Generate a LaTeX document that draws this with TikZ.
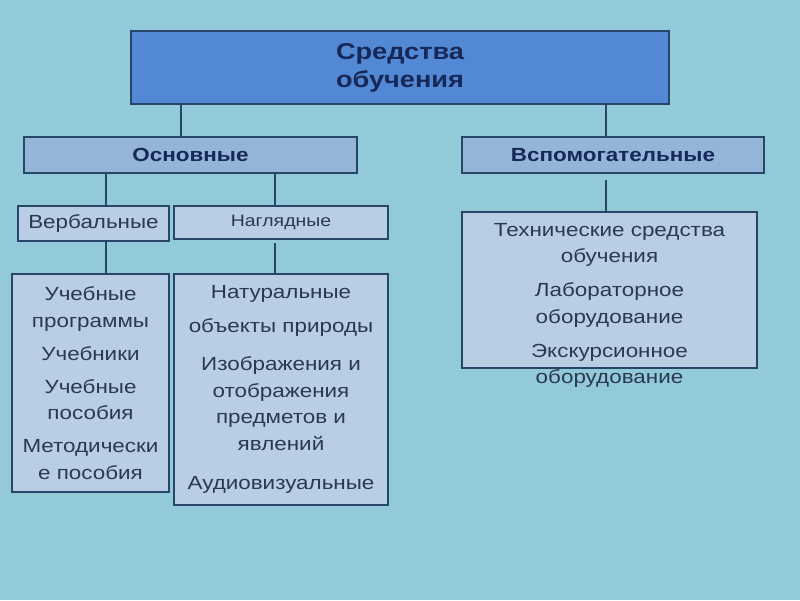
\documentclass[tikz,border=0pt]{standalone}
\usepackage{fontspec}
\setmainfont{Liberation Sans}[FakeStretch=1.18]
\usetikzlibrary{positioning}
\definecolor{bgteal}{HTML}{92CAD9}
\definecolor{rootblue}{HTML}{5389D4}
\definecolor{midblue}{HTML}{94B4D8}
\definecolor{lightblue}{HTML}{B9CDE5}
\definecolor{edgenavy}{HTML}{284668}
\definecolor{txtnavy}{HTML}{162858}
\definecolor{txtgray}{HTML}{2B3852}

\begin{document}
\begin{tikzpicture}[
    x=1pt, y=-1pt,
    box/.style={draw=edgenavy, line width=2.8pt, inner sep=0pt, align=center},
    head/.style={box, fill=rootblue, text=txtnavy, font=\fontsize{23}{28}\selectfont\bfseries},
    group/.style={box, fill=midblue, text=txtnavy, font=\fontsize{19}{22}\selectfont\bfseries, minimum height=36},
    kind/.style={box, fill=lightblue, text=txtgray, font=\fontsize{19}{22}\selectfont},
    list/.style={box, fill=lightblue},
    items/.style={text=txtgray, align=center, inner sep=0pt, font=\fontsize{19}{26.5}\selectfont},
    link/.style={draw=edgenavy, line width=2.8pt}
]
    \useasboundingbox[fill=bgteal] (0,0) rectangle (800,600);

    % Верхний уровень
    \node[head, minimum width=538, minimum height=73] (root) at (400,67.5) {Средства\\обучения};

    % Второй уровень: основные и вспомогательные
    \node[group, minimum width=333] (osn) at (190.5,155) {Основные};
    \node[group, minimum width=302] (vsp) at (613,155) {Вспомогательные};

    % Третий уровень
    \node[kind, minimum width=151, minimum height=35] (verb) at (93.5,223.5) {Вербальные};
    \node[kind, minimum width=214, minimum height=33, font=\fontsize{16.5}{20}\selectfont] (nagl) at (281,222.5) {Наглядные};

    % Перечни
    \node[list, minimum width=157, minimum height=218] (verblist) at (90.5,383) {};
    \node[items] (verbitems) at (verblist.center) {Учебные\\программы\\[6.5pt]Учебники\\[6.5pt]Учебные\\пособия\\[6.5pt]Методически\\е пособия};
    \node[list, minimum width=214, minimum height=231] (nagllist) at (281,389.5) {};
    \node[items] (naglitems) at (nagllist.center) {Натуральные\\[7pt]объекты природы\\[12pt]Изображения и\\отображения\\предметов и\\явлений\\[13pt]Аудиовизуальные};
    \node[list, minimum width=295, minimum height=156] (tech) at (609.5,290) {};
    \node[items, below=12.5pt of tech.north] (techitems) {Технические средства\\обучения\\[7.5pt]Лабораторное\\оборудование\\[7.5pt]Экскурсионное\\оборудование};

    % Связи
    \draw[link] ([xshift=-9.5pt]osn.north) -- ([xshift=-9.5pt]osn.north |- root.south);
    \draw[link] ([xshift=-7pt]vsp.north) -- ([xshift=-7pt]vsp.north |- root.south);
    \draw[link] ([xshift=12.5pt]verb.north) -- ([xshift=12.5pt]verb.north |- osn.south);
    \draw[link] ([xshift=-6pt]nagl.north) -- ([xshift=-6pt]nagl.north |- osn.south);
    \draw[link] ([xshift=-3.5pt]tech.north) -- ([xshift=-3.5pt,yshift=31pt]tech.north);
    \draw[link] ([xshift=15.5pt]verblist.north) -- ([xshift=15.5pt,yshift=31pt]verblist.north);
    \draw[link] ([xshift=-6pt]nagllist.north) -- ([xshift=-6pt,yshift=30pt]nagllist.north);
\end{tikzpicture}
\end{document}
